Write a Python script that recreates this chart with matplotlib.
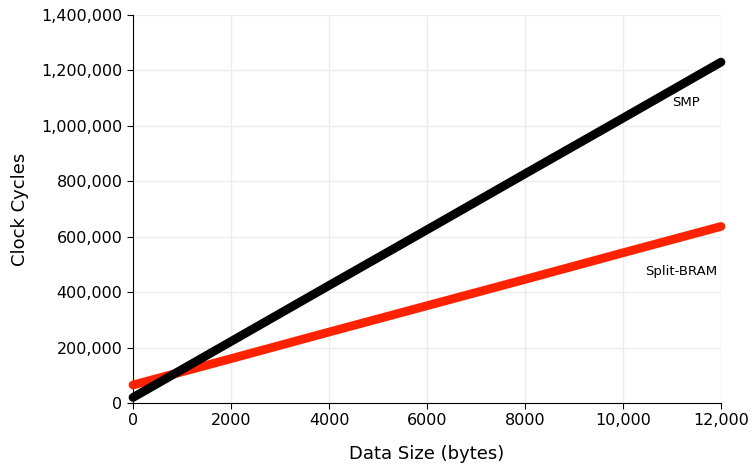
import matplotlib
matplotlib.use("Agg")
import matplotlib.pyplot as plt
from matplotlib.ticker import FuncFormatter

data_size = [0, 2000, 4000, 6000, 8000, 10000, 12000]
smp = [20000, 222000, 424000, 625000, 827000, 1028000, 1230000]
split_bram = [65000, 160000, 256000, 351000, 446000, 542000, 637000]
x_ticks = [0, 2000, 4000, 6000, 8000, 10000, 12000]
x_tick_labels = ["0", "2000", "4000", "6000", "8000", "10,000", "12,000"]
y_ticks = [0, 200000, 400000, 600000, 800000, 1000000, 1200000, 1400000]

fig = plt.figure(figsize=(7.52, 4.68), dpi=100)
ax = fig.add_axes([133/752, 1-403/468, 588/752, 388/468])

ax.plot(data_size, split_bram, color="#ff2200", lw=6.3, solid_capstyle="round", zorder=3, clip_on=False)
ax.plot(data_size, smp, color="black", lw=6.3, solid_capstyle="round", zorder=4, clip_on=False)

ax.set_xlim(0, 12000)
ax.set_ylim(0, 1400000)
ax.set_xticks(x_ticks)
ax.set_xticklabels(x_tick_labels)
ax.set_yticks(y_ticks)
ax.yaxis.set_major_formatter(FuncFormatter(lambda v, p: f"{int(v):,}"))
ax.tick_params(labelsize=11.5, length=4, direction="out", color="black")
ax.grid(True, color="#ececec", lw=1)
ax.set_axisbelow(True)
for s in ["top", "right"]:
    ax.spines[s].set_visible(False)
ax.set_xlabel("Data Size (bytes)", fontsize=13, labelpad=12)
ax.set_ylabel("Clock Cycles", fontsize=13, labelpad=9)

ax.text(11571, 1083000, "SMP", ha="right", va="center", fontsize=9.5)
ax.text(11918, 473000, "Split-BRAM", ha="right", va="center", fontsize=9.5)

fig.savefig("out.png", dpi=100)
